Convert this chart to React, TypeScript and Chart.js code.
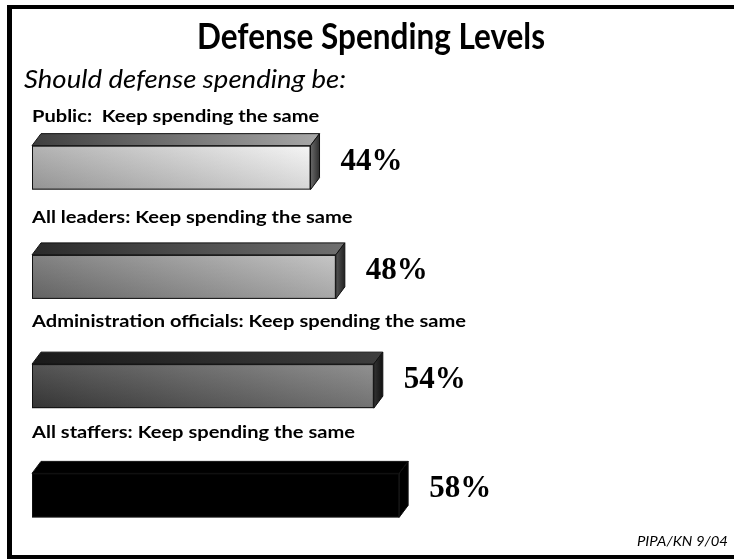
import React, { useEffect, useRef } from "react";
import { Chart, registerables } from "chart.js";

Chart.register(...registerables);

// ---- data ----
const categories = [
  "Public:  Keep spending the same",
  "All leaders: Keep spending the same",
  "Administration officials: Keep spending the same",
  "All staffers: Keep spending the same",
];
const values = [44, 48, 54, 58];
const valueLabels = ["44%", "48%", "54%", "58%"];
const titleText = "Defense Spending Levels";
const subtitleText = "Should defense spending be:";
const sourceText = "PIPA/KN 9/04";

// ---- styles ----
const W = 734;
const H = 559;
const SANS = "Lato, 'Open Sans', sans-serif";
const SERIF = "'Liberation Serif', 'DejaVu Serif', serif";
const frontStops = [
  ["#a8a8a8", "#f4f4f4"],
  ["#707070", "#bebebe"],
  ["#3c3c3c", "#828282"],
  ["#000000", "#000000"],
];
const topStops = [
  ["#3e3e3e", "#a8a8a8"],
  ["#2a2a2a", "#707070"],
  ["#1a1a1a", "#3e3e3e"],
  ["#000000", "#000000"],
];
const sideStops = [
  ["#6a6a6a", "#2e2e2e"],
  ["#555555", "#222222"],
  ["#333333", "#111111"],
  ["#000000", "#000000"],
];
const labelOffsets = [46, 54, 59, 57];
const DX = 9;
const DY = 12;

function scaleFor(ctx: CanvasRenderingContext2D, text: string, font: string, target: number) {
  ctx.font = font;
  return target / ctx.measureText(text).width;
}

function drawScaled(
  ctx: CanvasRenderingContext2D,
  text: string,
  x: number,
  y: number,
  font: string,
  sx: number,
  align: CanvasTextAlign
) {
  ctx.save();
  ctx.font = font;
  ctx.textAlign = align;
  ctx.translate(x, y);
  ctx.scale(sx, 1);
  ctx.fillText(text, 0, 0);
  ctx.restore();
}

const decorPlugin = {
  id: "decor",
  beforeDraw(chart: any) {
    const ctx: CanvasRenderingContext2D = chart.ctx;
    ctx.save();
    ctx.fillStyle = "#ffffff";
    ctx.fillRect(0, 0, W, H);
    ctx.fillStyle = "#000000";
    ctx.fillRect(7, 5, W - 7, 4);
    ctx.fillRect(7, 5, 5, H - 5);
    ctx.fillRect(7, 555, W - 7, 4);
    ctx.textBaseline = "alphabetic";

    // title
    const tf = `bold 36px ${SANS}`;
    drawScaled(ctx, titleText, 371, 49, tf, scaleFor(ctx, titleText, tf, 348), "center");

    // subtitle
    const sf = `italic 26px ${SANS}`;
    drawScaled(ctx, subtitleText, 24, 88, sf, scaleFor(ctx, subtitleText, sf, 322), "left");

    // source
    const ff = `italic 13px ${SANS}`;
    drawScaled(ctx, sourceText, 728, 546, ff, scaleFor(ctx, sourceText, ff, 91), "right");
    ctx.restore();
  },
  afterDatasetsDraw(chart: any) {
    const ctx: CanvasRenderingContext2D = chart.ctx;
    const meta = chart.getDatasetMeta(0);
    ctx.save();
    const lf = `bold 17px ${SANS}`;
    const lsx = scaleFor(ctx, categories[2], lf, 434);
    meta.data.forEach((el: any, i: number) => {
      const p = el.getProps(["x", "y", "base", "height"], true);
      const x0 = p.base;
      const x1 = p.x;
      const yT = p.y - p.height / 2;
      const yB = p.y + p.height / 2;

      // front
      const gf = ctx.createLinearGradient(x0, 0, x1, 0);
      gf.addColorStop(0, frontStops[i][0]);
      gf.addColorStop(1, frontStops[i][1]);
      ctx.fillStyle = gf;
      ctx.fillRect(x0, yT, x1 - x0, yB - yT);
      if (i < 3) {
        const gv = ctx.createLinearGradient(0, yT, 0, yB);
        gv.addColorStop(0, "rgba(255,255,255,0.12)");
        gv.addColorStop(1, "rgba(0,0,0,0.12)");
        ctx.fillStyle = gv;
        ctx.fillRect(x0, yT, x1 - x0, yB - yT);
      }
      ctx.strokeStyle = "#111";
      ctx.lineWidth = 1;
      ctx.strokeRect(x0 + 0.5, yT + 0.5, x1 - x0 - 1, yB - yT - 1);

      // top face
      const gt = ctx.createLinearGradient(x0, 0, x1 + DX, 0);
      gt.addColorStop(0, topStops[i][0]);
      gt.addColorStop(1, topStops[i][1]);
      ctx.beginPath();
      ctx.moveTo(x0, yT);
      ctx.lineTo(x0 + DX, yT - DY);
      ctx.lineTo(x1 + DX, yT - DY);
      ctx.lineTo(x1, yT);
      ctx.closePath();
      ctx.fillStyle = gt;
      ctx.fill();
      ctx.stroke();

      // side face
      const gs = ctx.createLinearGradient(x1, 0, x1 + DX, 0);
      gs.addColorStop(0, sideStops[i][0]);
      gs.addColorStop(1, sideStops[i][1]);
      ctx.beginPath();
      ctx.moveTo(x1, yT);
      ctx.lineTo(x1 + DX, yT - DY);
      ctx.lineTo(x1 + DX, yB - DY);
      ctx.lineTo(x1, yB);
      ctx.closePath();
      ctx.fillStyle = gs;
      ctx.fill();
      ctx.stroke();

      // category label
      ctx.fillStyle = "#000";
      ctx.textBaseline = "alphabetic";
      drawScaled(ctx, categories[i], 32, p.y - labelOffsets[i], lf, lsx, "left");

      // value label
      ctx.font = `bold 31px ${SERIF}`;
      ctx.textAlign = "left";
      ctx.textBaseline = "middle";
      ctx.fillText(valueLabels[i], x1 + DX + 21, p.y - DY / 2);
    });
    ctx.restore();
  },
};

export default function App() {
  const ref = useRef<HTMLCanvasElement | null>(null);
  useEffect(() => {
    if (!ref.current) return;
    const chart = new Chart(ref.current, {
      type: "bar",
      data: {
        labels: categories,
        datasets: [
          {
            data: values,
            backgroundColor: "rgba(0,0,0,0)",
            borderWidth: 0,
            barThickness: 44,
          },
        ],
      },
      options: {
        indexAxis: "y",
        responsive: false,
        animation: false,
        events: [],
        layout: { padding: { left: 32, right: 69, top: 113, bottom: 9 } },
        scales: {
          x: { display: false, min: 0, max: 100 },
          y: { display: false },
        },
        plugins: {
          legend: { display: false },
          tooltip: { enabled: false },
          title: { display: false },
        },
      },
      plugins: [decorPlugin],
    });
    return () => chart.destroy();
  }, []);
  return (
    <div style={{ position: "absolute", left: 0, top: 0, width: W, height: H }}>
      <canvas ref={ref} width={W} height={H} style={{ display: "block" }} />
    </div>
  );
}
